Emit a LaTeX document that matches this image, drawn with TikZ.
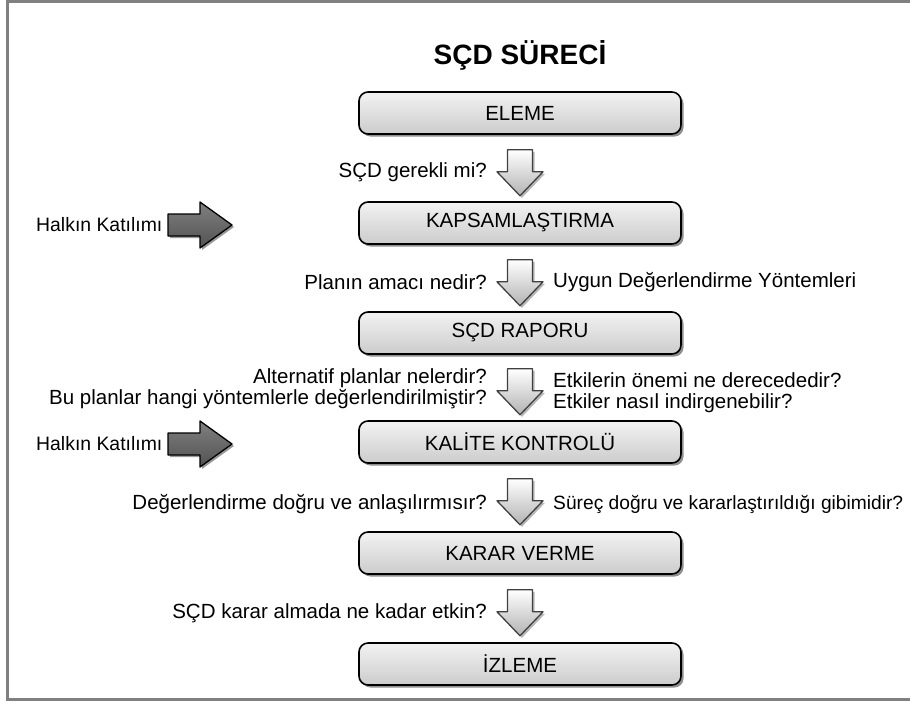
\documentclass[tikz,border=0pt]{standalone}
\usepackage{fontspec}
\setmainfont{Liberation Sans}
\usetikzlibrary{calc,shadows}

\definecolor{framegray}{HTML}{808080}

\tikzset{
  txt/.style={font=\fontsize{20.5}{20.5}\selectfont, inner sep=0pt, text=black},
  stepbox/.style={draw=black, line width=1.6pt, rounded corners=9pt,
    top color=white!95!black, bottom color=white!80!black,
    minimum width=322pt, minimum height=42pt, inner sep=0pt,
    font=\fontsize{20.5}{20.5}\selectfont, text=black,
    drop shadow={shadow xshift=2.5pt, shadow yshift=-2.5pt, opacity=0.55, fill=black!80}},
  downfill/.style={draw=black!75, line width=1.3pt, line join=round,
    top color=white, bottom color=white!70!black,
    drop shadow={shadow xshift=2pt, shadow yshift=-2pt, opacity=0.4, fill=black!70}},
  rightfill/.style={draw=black, line width=1.3pt, line join=round,
    top color=black!50, bottom color=black!68,
    drop shadow={shadow xshift=2pt, shadow yshift=-2pt, opacity=0.5, fill=black!80}},
  downarr/.pic={
    \path[downfill] (-12.5,0) -- (12.5,0) -- (12.5,22) -- (23,22) -- (0,46)
      -- (-23,22) -- (-12.5,22) -- cycle;
    \coordinate (-tip) at (0,46);
  },
  rightarr/.pic={
    \path[rightfill] (0,-11) -- (32,-11) -- (32,-23) -- (64,0) -- (32,23)
      -- (32,11) -- (0,11) -- cycle;
    \coordinate (-tip) at (64,0);
  },
}

\begin{document}
\begin{tikzpicture}[x=1pt, y=-1pt]
  \useasboundingbox (0,0) rectangle (910,702);

  % outer frame (open on the right)
  \draw[framegray, line width=3pt] (910,1.25) -- (7.5,1.25) -- (7.5,699.5) -- (910,699.5);

  % title
  \node[font=\fontsize{28}{28}\selectfont\bfseries, inner sep=0pt] (title) at (520,55) {SÇD SÜRECİ};

  % process steps
  \node[stepbox] (b1) at (520,113) {ELEME};
  \node[stepbox] (b2) at (520,223) {KAPSAMLAŞTIRMA};
  \node[stepbox] (b3) at (520,333) {SÇD RAPORU};
  \node[stepbox] (b4) at (520,442) {KALİTE KONTROLÜ};
  \node[stepbox] (b5) at (520,553) {KARAR VERME};
  \node[stepbox] (b6) at (520,664) {İZLEME};

  % block arrows between the steps
  \pic (a1) at ($(b1.south)+(0,15)$) {downarr};
  \pic (a2) at ($(b2.south)+(0,15)$) {downarr};
  \pic (a3) at ($(b3.south)+(0,14)$) {downarr};
  \pic (a4) at ($(b4.south)+(0,15)$) {downarr};
  \pic (a5) at ($(b5.south)+(0,15)$) {downarr};

  % questions beside the arrows
  \node[txt, anchor=east] (q1) at (487,172) {SÇD gerekli mi?};
  \node[txt, anchor=east] (q2) at (487,282) {Planın amacı nedir?};
  \node[txt, anchor=west] (r2) at (553,282) {Uygun Değerlendirme Yöntemleri};
  \node[txt, anchor=east, align=right] (q3) at (487,389)
    {Alternatif planlar nelerdir?\\[0.5pt]Bu planlar hangi yöntemlerle değerlendirilmiştir?};
  \node[txt, anchor=west, align=left] (r3) at (553,393)
    {Etkilerin önemi ne derecededir?\\[0.5pt]Etkiler nasıl indirgenebilir?};
  \node[txt, anchor=east] (q4) at (487,504) {Değerlendirme doğru ve anlaşılırmısır?};
  \node[txt, anchor=west, font=\fontsize{19.2}{20}\selectfont] (r4) at (553,504)
    {Süreç doğru ve kararlaştırıldığı gibimidir?};
  \node[txt, anchor=east] (q5) at (487,613) {SÇD karar almada ne kadar etkin?};

  % public participation inputs
  \node[txt, anchor=west, font=\fontsize{19.4}{20}\selectfont] (p1) at (36,225) {Halkın Katılımı};
  \node[txt, anchor=west, font=\fontsize{19.4}{20}\selectfont] (p2) at (36,444) {Halkın Katılımı};
  \pic (h1) at (168,225) {rightarr};
  \pic (h2) at (168,444) {rightarr};
\end{tikzpicture}
\end{document}
